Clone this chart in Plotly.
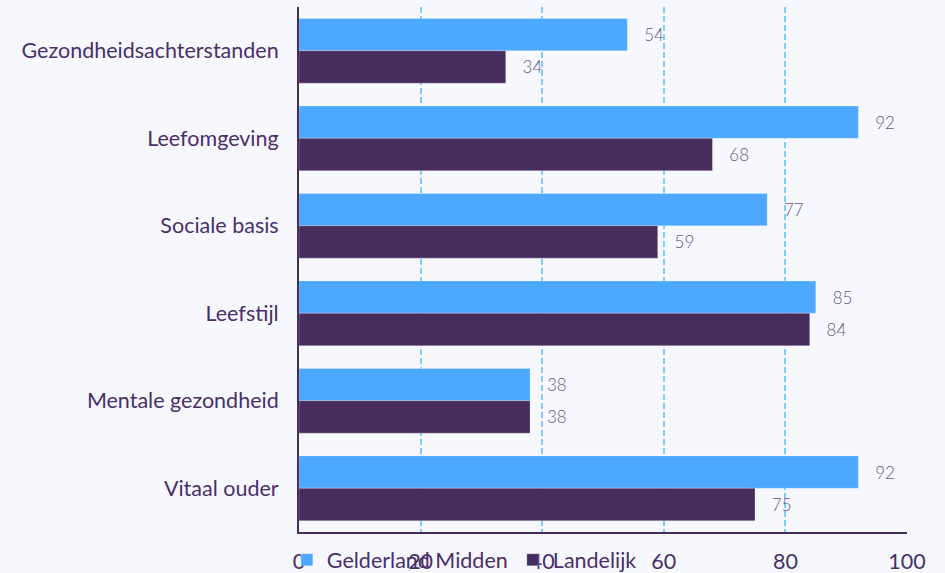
import plotly.graph_objects as go

categories = ["Gezondheidsachterstanden", "Leefomgeving", "Sociale basis",
              "Leefstijl", "Mentale gezondheid", "Vitaal ouder"]
gelderland_midden = [54, 92, 77, 85, 38, 92]
landelijk = [34, 68, 59, 84, 38, 75]
tick_values = [0, 20, 40, 60, 80, 100]

BLUE = "#4DA8FF"
PURPLE = "#472C5E"
TEXT = "#4A2F68"
BG = "#F6F8FD"
NB = "\u00a0"
LABEL_FONT = dict(family="Lato", size=17, color="#6A5A80", weight=300)

fig = go.Figure()
fig.add_trace(go.Bar(
    y=categories, x=gelderland_midden, orientation="h", name="Gelderland Midden",
    marker=dict(color=BLUE, line=dict(color="rgba(255,255,255,0.5)", width=0.5)),
    texttemplate=NB * 3 + "%{x}", textposition="outside",
    textfont=LABEL_FONT, cliponaxis=False,
))
fig.add_trace(go.Bar(
    y=categories, x=landelijk, orientation="h", name="Landelijk",
    marker=dict(color=PURPLE, line=dict(color="rgba(255,255,255,0.5)", width=0.5)),
    texttemplate=NB * 3 + "%{x}", textposition="outside",
    textfont=LABEL_FONT, cliponaxis=False,
))

fig.update_layout(
    width=945, height=573,
    barmode="group", bargap=0.26, bargroupgap=0,
    paper_bgcolor=BG, plot_bgcolor=BG,
    margin=dict(l=299, r=38, t=7, b=41, autoexpand=False),
    font=dict(family="Lato", size=21.5, color=TEXT),
    showlegend=True,
    legend=dict(orientation="h", x=-0.02, xanchor="left", y=-0.053, yanchor="middle",
                bgcolor="rgba(0,0,0,0)", font=dict(size=21.5, color=TEXT),
                itemwidth=30, traceorder="normal",
                entrywidth=181, entrywidthmode="pixels"),
)
fig.update_xaxes(
    range=[0, 100], tickvals=tick_values, showgrid=True,
    gridcolor="#80CCFA", griddash="6px,3px", gridwidth=1.5,
    showline=True, linecolor=PURPLE, linewidth=2, zeroline=False,
    ticks="", ticklabelstandoff=9, tickfont=dict(size=21.5, color=TEXT),
)
fig.update_yaxes(
    categoryorder="array", categoryarray=categories, autorange="reversed",
    showline=True, linecolor=PURPLE, linewidth=2, showgrid=False,
    ticks="", ticklabelstandoff=14, tickfont=dict(size=21.5, color=TEXT),
)

fig.write_html("out.html", config={"displayModeBar": False},
               post_script="document.body.style.margin='0';")
